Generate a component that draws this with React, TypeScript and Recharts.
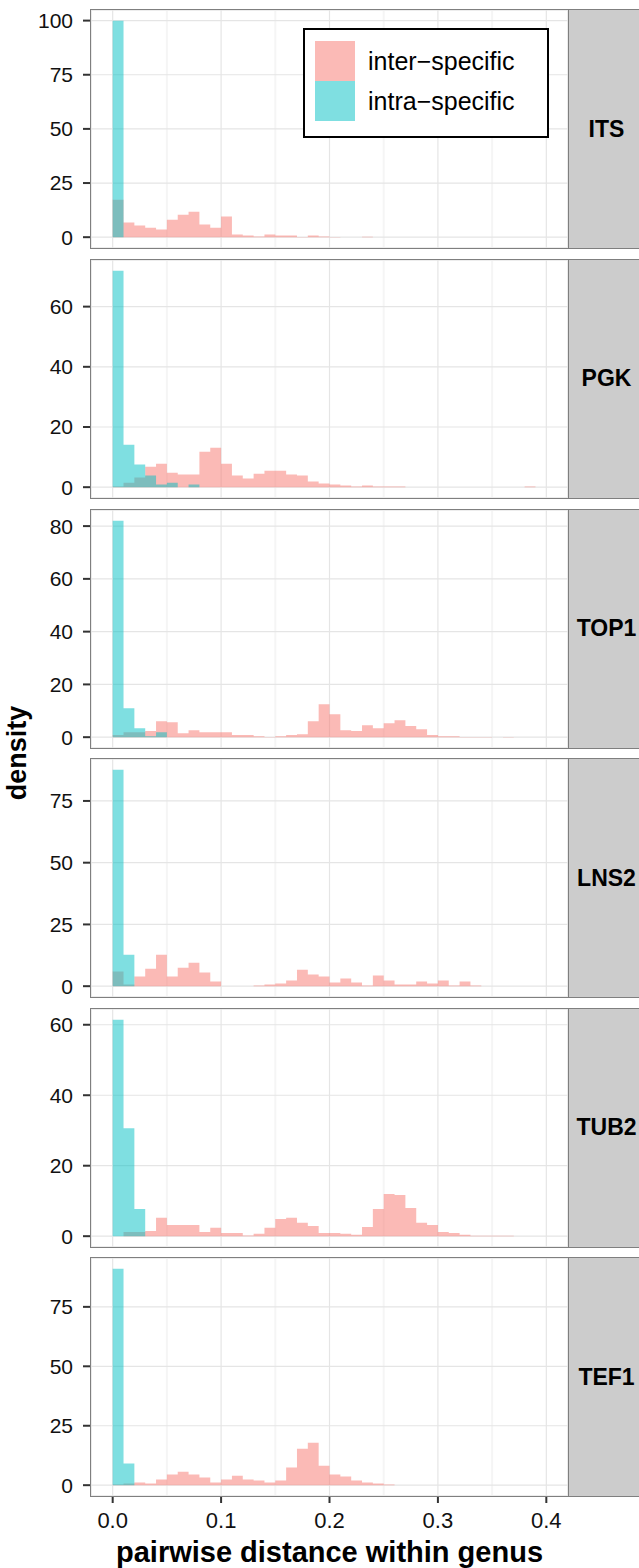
import { ComposedChart, Area, XAxis, YAxis, CartesianGrid } from 'recharts'

// histogram bins start at 0 and are 0.01 wide
const BIN_WIDTH = 0.01
const X_DOMAIN: [number, number] = [-0.02, 0.42]
const X_TICKS = [0, 0.1, 0.2, 0.3, 0.4]
const X_MINOR = [0.05, 0.15, 0.25, 0.35]

const GENES = ['ITS', 'PGK', 'TOP1', 'LNS2', 'TUB2', 'TEF1']

const itsInter = [17.3, 6.8, 5.4, 4.4, 3.5, 8.1, 10.4, 11.8, 5.8, 4.4, 9.5, 1.2, 0.8, 0.3, 1.2, 0.8, 0.8, 0.1, 0.8, 0.3, 0.1, 0, 0, 0.15]
const itsIntra = [99.9]

const pgkInter = [0.2, 1.5, 3.2, 6.8, 7.8, 4.8, 4.2, 4.2, 11.8, 13.1, 7.8, 3.9, 2.9, 4.5, 5.5, 5.5, 4.2, 3.9, 1.9, 1.2, 0.9, 0.55, 0.2, 0.55, 0.2, 0.2, 0.2, 0, 0, 0, 0, 0, 0, 0, 0, 0, 0, 0, 0.2]
const pgkIntra = [71.9, 14.1, 7.5, 3.9, 0.9, 1.5, 0, 0.9]

const top1Inter = [0.8, 1.9, 1.9, 2.3, 6.0, 5.7, 1.5, 2.6, 1.9, 1.9, 1.9, 0.8, 0.8, 0.4, 0.1, 0.4, 0.8, 1.1, 6.0, 12.5, 8.7, 2.6, 2.3, 4.5, 3.4, 5.3, 6.4, 4.2, 3.0, 0.8, 0.4, 0.4, 0.1, 0.1, 0.1, 0, 0.1]
const top1Intra = [82.0, 11.0, 3.4, 0.4, 1.9]

const lns2Inter = [5.9, 0.7, 3.9, 7.1, 12.7, 3.9, 7.5, 9.5, 5.5, 1.9, 0, 0, 0, 0.3, 0.7, 1.1, 2.3, 6.7, 4.7, 3.9, 1.5, 3.1, 1.5, 0.3, 4.3, 2.3, 0.7, 0.7, 1.9, 1.1, 2.3, 0.3, 1.9, 0.3]
const lns2Intra = [87.6, 12.7]

const tub2Inter = [0, 1.2, 1.2, 1.5, 5.2, 3.2, 3.2, 3.2, 1.2, 2.4, 0.9, 0.9, 0.2, 0.7, 2.4, 4.9, 5.2, 3.8, 2.9, 0.9, 0.9, 0.7, 0.4, 2.6, 7.7, 12.0, 11.7, 8.0, 3.8, 3.2, 1.2, 0.9, 0.4, 0.1, 0.1, 0.1, 0.1]
const tub2Intra = [61.4, 30.6, 7.7]

const tef1Inter = [0.3, 0.7, 1.1, 0.7, 2.4, 4.5, 5.7, 4.5, 3.2, 1.1, 2.4, 4.0, 2.4, 2.0, 1.1, 2.0, 7.4, 15.3, 17.8, 8.2, 4.5, 3.6, 2.0, 1.1, 0.7, 0.3]
const tef1Intra = [91.0, 9.1]

const INTER = [itsInter, pgkInter, top1Inter, lns2Inter, tub2Inter, tef1Inter]
const INTRA = [itsIntra, pgkIntra, top1Intra, lns2Intra, tub2Intra, tef1Intra]

const Y_TICKS = [
  [0, 25, 50, 75, 100],
  [0, 20, 40, 60],
  [0, 20, 40, 60, 80],
  [0, 25, 50, 75],
  [0, 20, 40, 60],
  [0, 25, 50, 75],
]

const SERIES = [
  { key: 'inter', label: 'inter\u2212specific', color: '#F8766D' },
  { key: 'intra', label: 'intra\u2212specific', color: '#00BFC4' },
]

const FONT = '"Liberation Sans", Arial, Helvetica, sans-serif'
const PANEL_LEFT = 91
const PANEL_RIGHT = 568
const PANEL_H = 238
const PANEL_STEP = 249.6
const PANEL_TOP0 = 10.3
const XAXIS_H = 44

function buildRows(inter: number[], intra: number[]) {
  const n = Math.max(inter.length, intra.length)
  const rows = []
  for (let k = 0; k <= n; k++) {
    rows.push({
      x: k * BIN_WIDTH,
      inter: k < n ? inter[k] ?? 0 : 0,
      intra: k < n ? intra[k] ?? 0 : 0,
    })
  }
  return rows
}

function minorTicks(ticks: number[], domain: [number, number]) {
  const step = ticks[1] - ticks[0]
  const out: number[] = []
  for (let v = ticks[0] + step / 2; v < domain[1]; v += step) out.push(v)
  return out
}

function Panel({ index }: { index: number }) {
  const inter = INTER[index]
  const intra = INTRA[index]
  const rows = buildRows(inter, intra)
  const yMax = Math.max(...inter, ...intra)
  const yDomain: [number, number] = [-0.05 * yMax, 1.05 * yMax]
  const yTicks = Y_TICKS[index]
  const bottom = index === GENES.length - 1
  const top = PANEL_TOP0 + index * PANEL_STEP

  return (
    <>
      <div style={{ position: 'absolute', left: 0, top }}>
        <ComposedChart
          width={PANEL_RIGHT}
          height={PANEL_H + (bottom ? XAXIS_H : 0)}
          data={rows}
          margin={{ top: 0, right: 0, bottom: 0, left: 0 }}
        >
          <XAxis xAxisId="minor" dataKey="x" type="number" domain={X_DOMAIN} ticks={X_MINOR} hide />
          <YAxis yAxisId="minor" type="number" domain={yDomain} ticks={minorTicks(yTicks, yDomain)} hide />
          <CartesianGrid xAxisId="minor" yAxisId="minor" stroke="#F5F5F5" strokeWidth={2} />
          <XAxis
            dataKey="x"
            type="number"
            domain={X_DOMAIN}
            ticks={X_TICKS}
            interval={0}
            hide={!bottom}
            height={XAXIS_H}
            tickFormatter={(v: number) => v.toFixed(1)}
            tick={{ fill: '#111', fontSize: 22, fontFamily: FONT }}
            tickLine={{ stroke: '#333', strokeWidth: 2 }}
            tickSize={7}
            tickMargin={9}
            axisLine={false}
          />
          <YAxis
            type="number"
            domain={yDomain}
            ticks={yTicks}
            interval={0}
            width={PANEL_LEFT}
            tick={{ fill: '#111', fontSize: 21, fontFamily: FONT }}
            tickLine={{ stroke: '#333', strokeWidth: 2 }}
            tickSize={8}
            tickMargin={10}
            axisLine={false}
          />
          <CartesianGrid stroke="#E5E5E5" strokeWidth={1.2} />
          {SERIES.map((s) => (
            <Area
              key={s.key}
              dataKey={s.key}
              type="stepAfter"
              baseValue={0}
              stroke="none"
              fill={s.color}
              fillOpacity={0.5}
              dot={false}
              activeDot={false}
              isAnimationActive={false}
            />
          ))}
        </ComposedChart>
      </div>
      {/* panel border */}
      <div
        style={{
          position: 'absolute',
          left: PANEL_LEFT - 1,
          top: top - 1,
          width: PANEL_RIGHT - PANEL_LEFT + 2,
          height: PANEL_H + 2,
          border: '1.6px solid #7F7F7F',
          boxSizing: 'border-box',
          pointerEvents: 'none',
        }}
      />
      {/* facet strip */}
      <div
        style={{
          position: 'absolute',
          left: PANEL_RIGHT,
          top: top - 1,
          width: 639 - PANEL_RIGHT + 2,
          height: PANEL_H + 2,
          background: '#CCCCCC',
          border: '1.6px solid #7F7F7F',
          boxSizing: 'border-box',
          display: 'flex',
          alignItems: 'center',
          justifyContent: 'center',
          fontFamily: FONT,
          fontWeight: 'bold',
          fontSize: 23,
          color: '#000',
          paddingLeft: 4,
        }}
      >
        {GENES[index]}
      </div>
    </>
  )
}

function LegendBox() {
  return (
    <div
      style={{
        position: 'absolute',
        left: 303,
        top: 28,
        width: 246,
        height: 110,
        border: '2px solid #000',
        background: '#fff',
        boxSizing: 'border-box',
        fontFamily: FONT,
        fontSize: 25,
        color: '#000',
      }}
    >
      {SERIES.map((s, i) => (
        <div key={s.key} style={{ position: 'absolute', left: 10, top: 11 + i * 40, height: 40, display: 'flex', alignItems: 'center' }}>
          <div style={{ width: 40, height: 40, background: s.color, opacity: 0.5 }} />
          <span style={{ marginLeft: 13 }}>{s.label}</span>
        </div>
      ))}
    </div>
  )
}

export default function App() {
  return (
    <div style={{ position: 'absolute', left: 0, top: 0, width: 639, height: 1568, background: '#fff', overflow: 'hidden' }}>
      {GENES.map((g, i) => (
        <Panel key={g} index={i} />
      ))}
      <LegendBox />
      <div
        style={{
          position: 'absolute',
          left: 17,
          top: 753,
          transform: 'translate(-50%, -50%) rotate(-90deg)',
          fontFamily: FONT,
          fontWeight: 'bold',
          fontSize: 27,
          whiteSpace: 'nowrap',
        }}
      >
        density
      </div>
      <div
        style={{
          position: 'absolute',
          left: (PANEL_LEFT + PANEL_RIGHT) / 2,
          top: 1552,
          transform: 'translate(-50%, -50%)',
          fontFamily: FONT,
          fontWeight: 'bold',
          fontSize: 29,
          whiteSpace: 'nowrap',
        }}
      >
        pairwise distance within genus
      </div>
    </div>
  )
}
